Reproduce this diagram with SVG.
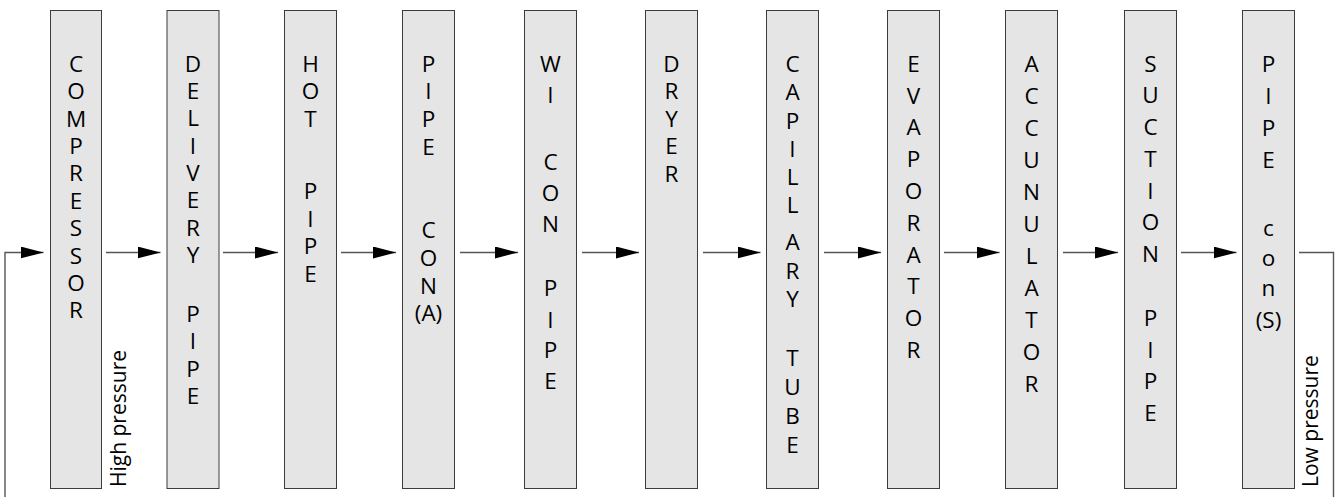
<svg xmlns="http://www.w3.org/2000/svg" width="1338" height="497" viewBox="0 0 1338 497">
<style>
.box{fill:#e5e5e5;stroke:#3c3c3c;stroke-width:1}
.lbl{font-family:"Open Sans","Liberation Sans",sans-serif;font-weight:400;font-size:22.5px;fill:#000;text-anchor:middle}
.side{font-family:"Open Sans","Liberation Sans",sans-serif;font-weight:400;font-size:21px;fill:#000}
.conn{stroke:#555;stroke-width:1.4;fill:none}
.arr{marker-end:url(#ah)}
</style>
<defs>
<marker id="ah" markerUnits="userSpaceOnUse" markerWidth="24" markerHeight="12" refX="23" refY="6" orient="auto" viewBox="0 0 24 12">
<path d="M0,0 L23,6 L0,12 z" fill="#000"/>
</marker>
</defs>
<rect width="1338" height="497" fill="#fff"/>
<g id="connectors">
<polyline class="conn arr" points="5,497 5,252.5 43.5,252.5"/>
<line class="conn arr" x1="106" y1="252.5" x2="160.5" y2="252.5"/>
<line class="conn arr" x1="223" y1="252.5" x2="278" y2="252.5"/>
<line class="conn arr" x1="341" y1="252.5" x2="396" y2="252.5"/>
<line class="conn arr" x1="460" y1="252.5" x2="518" y2="252.5"/>
<line class="conn arr" x1="582" y1="252.5" x2="639" y2="252.5"/>
<line class="conn arr" x1="703" y1="252.5" x2="760.5" y2="252.5"/>
<line class="conn arr" x1="824" y1="252.5" x2="881" y2="252.5"/>
<line class="conn arr" x1="944" y1="252.5" x2="999.5" y2="252.5"/>
<line class="conn arr" x1="1063" y1="252.5" x2="1118" y2="252.5"/>
<line class="conn arr" x1="1181" y1="252.5" x2="1236.5" y2="252.5"/>
<polyline class="conn" points="1299,252.5 1333.5,252.5 1333.5,497"/>
</g>
<g id="compressor">
<rect class="box" x="50.5" y="10.5" width="51" height="478"/>
<text class="lbl"><tspan x="76" y="71.7">C</tspan><tspan x="76" y="99.1">O</tspan><tspan x="76" y="126.5">M</tspan><tspan x="76" y="153.9">P</tspan><tspan x="76" y="181.3">R</tspan><tspan x="76" y="208.7">E</tspan><tspan x="76" y="236.1">S</tspan><tspan x="76" y="263.5">S</tspan><tspan x="76" y="290.9">O</tspan><tspan x="76" y="318.3">R</tspan></text>
</g>
<g id="high-pressure">
<text class="side" transform="translate(126,487) rotate(-90)">High pressure</text>
</g>
<g id="delivery-pipe">
<rect class="box" x="167" y="10.5" width="52" height="478"/>
<text class="lbl"><tspan x="193" y="71.7">D</tspan><tspan x="193" y="99">E</tspan><tspan x="193" y="126.4">L</tspan><tspan x="193" y="153.7">I</tspan><tspan x="193" y="181">V</tspan><tspan x="193" y="208.4">E</tspan><tspan x="193" y="235.7">R</tspan><tspan x="193" y="263">Y</tspan><tspan x="193" y="322">P</tspan><tspan x="193" y="349.3">I</tspan><tspan x="193" y="376.6">P</tspan><tspan x="193" y="404">E</tspan></text>
</g>
<g id="hot-pipe">
<rect class="box" x="284.5" y="10.5" width="52" height="478"/>
<text class="lbl"><tspan x="310.5" y="71.7">H</tspan><tspan x="310.5" y="99.2">O</tspan><tspan x="310.5" y="126.7">T</tspan><tspan x="310.5" y="199">P</tspan><tspan x="310.5" y="226.5">I</tspan><tspan x="310.5" y="254">P</tspan><tspan x="310.5" y="281.5">E</tspan></text>
</g>
<g id="pipe-con-a">
<rect class="box" x="402.5" y="10.5" width="52" height="478"/>
<text class="lbl"><tspan x="428.5" y="71.7">P</tspan><tspan x="428.5" y="99.3">I</tspan><tspan x="428.5" y="127">P</tspan><tspan x="428.5" y="154.5">E</tspan><tspan x="428.5" y="238">C</tspan><tspan x="428.5" y="266">O</tspan><tspan x="428.5" y="293.5">N</tspan><tspan x="428.5" y="321">(A)</tspan></text>
</g>
<g id="wi-con-pipe">
<rect class="box" x="524.5" y="10.5" width="52" height="478"/>
<text class="lbl"><tspan x="550.5" y="71.7">W</tspan><tspan x="550.5" y="103">I</tspan><tspan x="550.5" y="170">C</tspan><tspan x="550.5" y="201">O</tspan><tspan x="550.5" y="231.7">N</tspan><tspan x="550.5" y="296">P</tspan><tspan x="550.5" y="327.5">I</tspan><tspan x="550.5" y="357.5">P</tspan><tspan x="550.5" y="389">E</tspan></text>
</g>
<g id="dryer">
<rect class="box" x="645.5" y="10.5" width="52" height="478"/>
<text class="lbl"><tspan x="671.5" y="71.7">D</tspan><tspan x="671.5" y="99.2">R</tspan><tspan x="671.5" y="126.7">Y</tspan><tspan x="671.5" y="154.2">E</tspan><tspan x="671.5" y="181.7">R</tspan></text>
</g>
<g id="capillary-tube">
<rect class="box" x="766.5" y="10.5" width="52" height="478"/>
<text class="lbl"><tspan x="792.5" y="71.7">C</tspan><tspan x="792.5" y="100">A</tspan><tspan x="792.5" y="128.5">P</tspan><tspan x="792.5" y="157">I</tspan><tspan x="792.5" y="185">L</tspan><tspan x="792.5" y="213">L</tspan><tspan x="792.5" y="250">A</tspan><tspan x="792.5" y="278.5">R</tspan><tspan x="792.5" y="306.5">Y</tspan><tspan x="792.5" y="366">T</tspan><tspan x="792.5" y="395">U</tspan><tspan x="792.5" y="423.5">B</tspan><tspan x="792.5" y="452.5">E</tspan></text>
</g>
<g id="evaporator">
<rect class="box" x="887.5" y="10.5" width="52" height="478"/>
<text class="lbl"><tspan x="913.5" y="71.7">E</tspan><tspan x="913.5" y="103.5">V</tspan><tspan x="913.5" y="135.3">A</tspan><tspan x="913.5" y="167.1">P</tspan><tspan x="913.5" y="198.9">O</tspan><tspan x="913.5" y="230.7">R</tspan><tspan x="913.5" y="262.5">A</tspan><tspan x="913.5" y="294.3">T</tspan><tspan x="913.5" y="326.1">O</tspan><tspan x="913.5" y="357.9">R</tspan></text>
</g>
<g id="accunulator">
<rect class="box" x="1005.5" y="10.5" width="52" height="478"/>
<text class="lbl"><tspan x="1031.5" y="71.7">A</tspan><tspan x="1031.5" y="103.7">C</tspan><tspan x="1031.5" y="135.7">C</tspan><tspan x="1031.5" y="167.7">U</tspan><tspan x="1031.5" y="199.7">N</tspan><tspan x="1031.5" y="231.7">U</tspan><tspan x="1031.5" y="263.7">L</tspan><tspan x="1031.5" y="295.7">A</tspan><tspan x="1031.5" y="327.7">T</tspan><tspan x="1031.5" y="359.7">O</tspan><tspan x="1031.5" y="391.7">R</tspan></text>
</g>
<g id="suction-pipe">
<rect class="box" x="1124.5" y="10.5" width="52" height="478"/>
<text class="lbl"><tspan x="1150.5" y="71.7">S</tspan><tspan x="1150.5" y="103.4">U</tspan><tspan x="1150.5" y="135.1">C</tspan><tspan x="1150.5" y="166.8">T</tspan><tspan x="1150.5" y="198.5">I</tspan><tspan x="1150.5" y="230.2">O</tspan><tspan x="1150.5" y="261.9">N</tspan><tspan x="1150.5" y="326">P</tspan><tspan x="1150.5" y="357.5">I</tspan><tspan x="1150.5" y="389">P</tspan><tspan x="1150.5" y="420.5">E</tspan></text>
</g>
<g id="pipe-con-s">
<rect class="box" x="1242.5" y="10.5" width="52" height="478"/>
<text class="lbl"><tspan x="1268.5" y="71.7">P</tspan><tspan x="1268.5" y="103.7">I</tspan><tspan x="1268.5" y="135.7">P</tspan><tspan x="1268.5" y="167.7">E</tspan><tspan x="1268.5" y="236">c</tspan><tspan x="1268.5" y="266">o</tspan><tspan x="1268.5" y="296">n</tspan><tspan x="1268.5" y="327.7">(S)</tspan></text>
</g>
<g id="low-pressure">
<text class="side" transform="translate(1318,487) rotate(-90)">Low pressure</text>
</g>
</svg>
